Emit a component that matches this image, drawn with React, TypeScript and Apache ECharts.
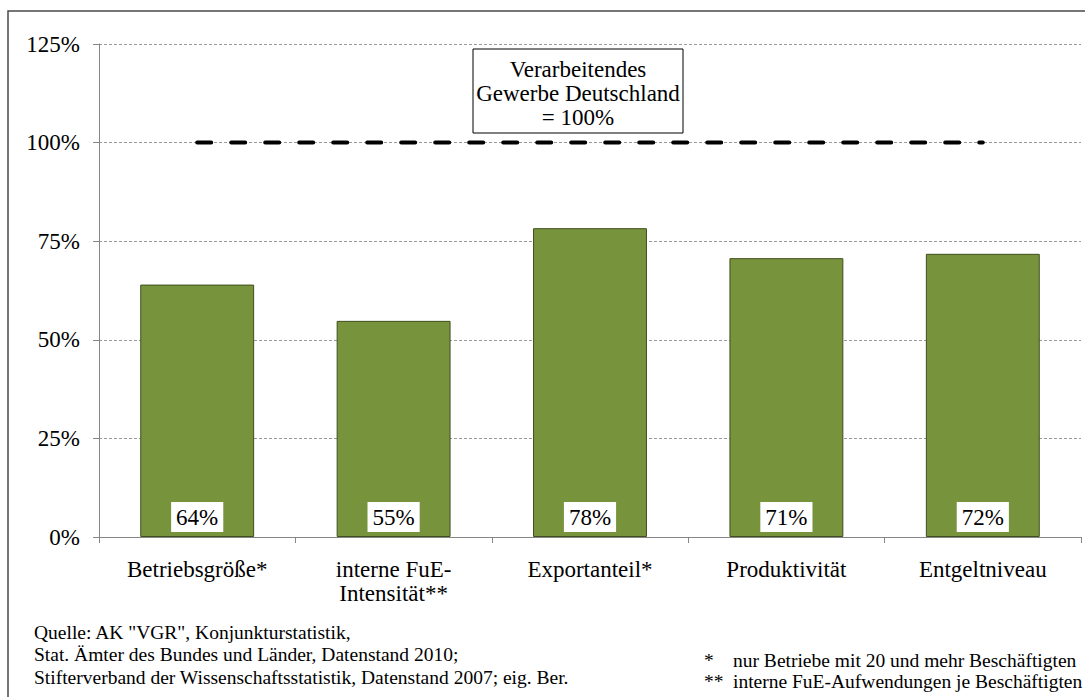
import React, { useEffect, useRef } from "react";
import * as echarts from "echarts";

const categories = [
  "Betriebsgröße*",
  "interne FuE-\nIntensität**",
  "Exportanteil*",
  "Produktivität",
  "Entgeltniveau",
];
const values = [64, 54.8, 78.3, 70.7, 71.8];
const referenceLine = [100, 100, 100, 100, 100];
const yTicks = { min: 0, max: 125, interval: 25 };
const boxLines = ["Verarbeitendes", "Gewerbe Deutschland", "= 100%"];
const sourceLines = [
  'Quelle: AK "VGR", Konjunkturstatistik,',
  "Stat. Ämter des Bundes und Länder, Datenstand 2010;",
  "Stifterverband der Wissenschaftsstatistik, Datenstand 2007; eig. Ber.",
];
const noteMarks = ["*", "**"];
const noteTexts = [
  "nur Betriebe mit 20 und mehr Beschäftigten",
  "interne FuE-Aufwendungen je Beschäftigten",
];

const FONT = "'Liberation Serif', 'DejaVu Serif', serif";

export default function App() {
  const ref = useRef<HTMLDivElement>(null);
  useEffect(() => {
    if (!ref.current) return;
    const chart = echarts.init(ref.current, null, { renderer: "svg" });
    const graphics: any[] = [
      {
        type: "rect",
        shape: { x: 8, y: 11, width: 1100, height: 720 },
        style: { fill: "none", stroke: "#4a4a4a", lineWidth: 1.5 },
        silent: true,
      },
      {
        type: "rect",
        shape: { x: 473, y: 49, width: 210, height: 84 },
        style: { fill: "#fff", stroke: "#000", lineWidth: 1 },
        z: 10,
      },
      {
        type: "text",
        x: 578,
        y: 57,
        style: {
          text: boxLines.join("\n"),
          font: `23px ${FONT}`,
          fill: "#000",
          align: "center",
          verticalAlign: "top",
          lineHeight: 24,
        },
        z: 11,
      },
    ];
    sourceLines.forEach((t, i) => {
      graphics.push({
        type: "text",
        x: 34,
        y: 632 + i * 22.5,
        style: { text: t, font: `19.5px ${FONT}`, fill: "#000", verticalAlign: "middle" },
      });
    });
    noteTexts.forEach((t, i) => {
      graphics.push({
        type: "text",
        x: 704,
        y: 660 + i * 21,
        style: { text: noteMarks[i], font: `19.5px ${FONT}`, fill: "#000", verticalAlign: "middle" },
      });
      graphics.push({
        type: "text",
        x: 733,
        y: 660 + i * 21,
        style: { text: t, font: `19.5px ${FONT}`, fill: "#000", verticalAlign: "middle" },
      });
    });

    chart.setOption({
      animation: false,
      backgroundColor: "#fff",
      grid: { left: 99, right: 4, top: 44, bottom: 160 },
      xAxis: {
        type: "category",
        data: categories,
        boundaryGap: true,
        axisLine: { lineStyle: { color: "#868686", width: 1 } },
        axisTick: { show: true, length: 6, lineStyle: { color: "#868686" } },
        axisLabel: {
          color: "#000",
          fontFamily: FONT,
          fontSize: 23,
          lineHeight: 24,
          margin: 20,
          interval: 0,
        },
      },
      yAxis: {
        type: "value",
        min: yTicks.min,
        max: yTicks.max,
        interval: yTicks.interval,
        axisLine: { show: true, lineStyle: { color: "#868686", width: 1 } },
        axisTick: { show: true, length: 6, lineStyle: { color: "#868686" } },
        axisLabel: {
          formatter: "{value}%",
          color: "#000",
          fontFamily: FONT,
          fontSize: 23,
          margin: 19,
        },
        splitLine: { lineStyle: { color: "#9a9a9a", type: [3, 2], width: 1 } },
      },
      series: [
        {
          type: "bar",
          data: values,
          barWidth: "58%",
          itemStyle: { color: "#77933C", borderColor: "#3f4f1f", borderWidth: 1 },
          label: {
            show: true,
            position: "insideBottom",
            distance: 5,
            formatter: (p: any) => `${Math.round(p.value)}%`,
            color: "#000",
            fontFamily: FONT,
            fontSize: 23,
            backgroundColor: "#fff",
            padding: [4, 5, 3, 5],
          },
          z: 2,
        },
        {
          type: "line",
          data: referenceLine,
          symbol: "none",
          lineStyle: { color: "#000", width: 4, type: [14, 20], cap: "round" },
          z: 5,
        },
      ],
      graphic: graphics,
    });
    return () => chart.dispose();
  }, []);
  return (
    <div
      ref={ref}
      style={{ position: "fixed", left: 0, top: 0, width: 1085, height: 697 }}
    />
  );
}
